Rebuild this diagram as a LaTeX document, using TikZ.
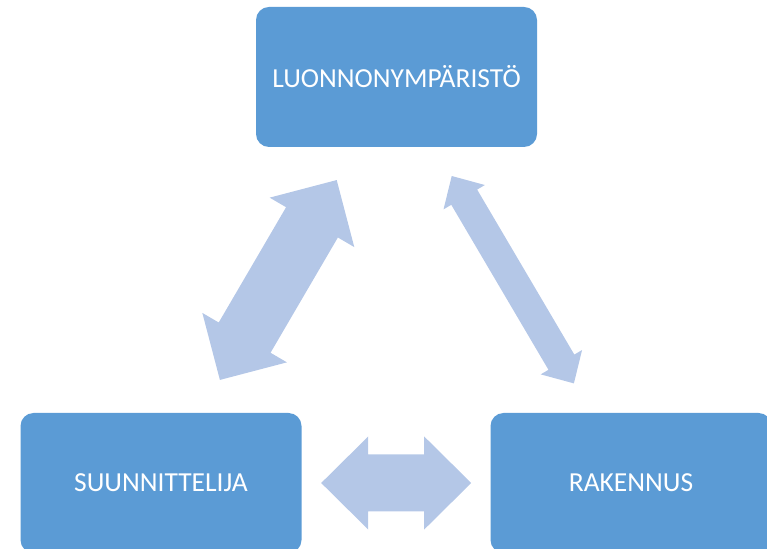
\documentclass[tikz,border=0pt]{standalone}
\usepackage{fontspec}
\setmainfont{Carlito}
\definecolor{boxblue}{HTML}{5B9BD5}
\definecolor{arrowblue}{HTML}{B4C7E7}
\newcommand\dblarrow[8]{%
 \begin{scope}[shift={(#2,#3)},rotate=#4]
 \pgfmathsetmacro\dxA{#5/2}\pgfmathsetmacro\dxS{#6/2}\pgfmathsetmacro\dxW{#7/2}\pgfmathsetmacro\dxH{#5/2-#8}
 \fill[arrowblue] (-\dxA,0) -- (-\dxH,\dxW) -- (-\dxH,\dxS) -- (\dxH,\dxS) -- (\dxH,\dxW) -- (\dxA,0) -- (\dxH,-\dxW) -- (\dxH,-\dxS) -- (-\dxH,-\dxS) -- (-\dxH,-\dxW) -- cycle;
 \coordinate (#1) at (0,0);
 \end{scope}}
\begin{document}
\begin{tikzpicture}[x=1pt,y=1pt,
  box/.style={fill=boxblue, rounded corners=13pt, minimum width=281pt, minimum height=140pt, text=white, font=\fontsize{27.5}{32}\selectfont, inner sep=0pt}]
\useasboundingbox (0,0) rectangle (767,548);
\clip (0,0) rectangle (767,548);
\node[box] (top) at (396.5,471) {LUONNONYMPÄRISTÖ};
\node[box] (left) at (161,65) {SUUNNITTELIJA};
\node[box] (right) at (631,65) {RAKENNUS};
\dblarrow{a1}{278.3}{268}{59.7}{231.5}{60}{98}{49}
\dblarrow{a2}{512.8}{268.3}{120.5}{240.7}{30}{48}{24.6}
\dblarrow{a3}{396.2}{65}{0}{150}{57}{93}{47}
\end{tikzpicture}
\end{document}
